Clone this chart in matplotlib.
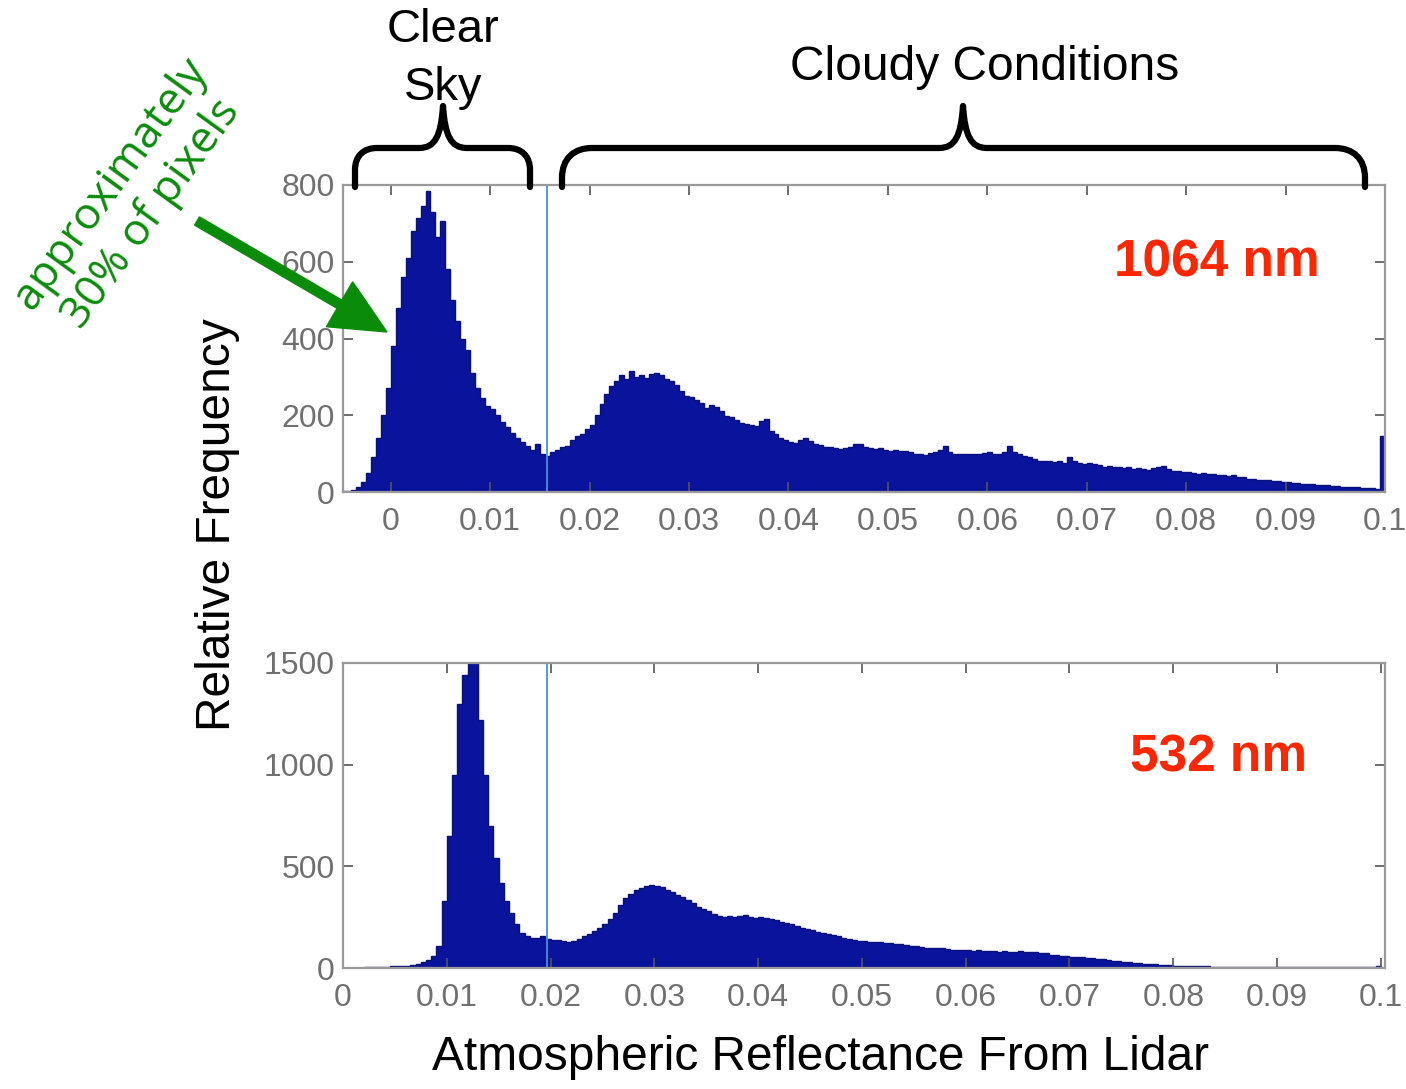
import numpy as np
import matplotlib
matplotlib.use("Agg")
import matplotlib.pyplot as plt
from matplotlib.path import Path
from matplotlib.patches import PathPatch, FancyArrow

# ---------------- data ----------------
bin_width = 0.0005
top_start = -0.005
top_counts = [
    2, 3, 6, 12, 25, 50, 90, 140, 200, 270,
    380, 480, 560, 610, 680, 715, 745, 785, 730, 665,
    705, 580, 500, 445, 400, 370, 310, 270, 245, 225,
    215, 200, 182, 170, 155, 140, 130, 120, 110, 125,
    100, 95, 105, 110, 118, 120, 135, 145, 150, 165,
    175, 200, 230, 255, 275, 290, 305, 295, 315, 300,
    305, 298, 308, 310, 305, 295, 290, 280, 262, 250,
    248, 240, 232, 218, 228, 222, 210, 198, 195, 188,
    180, 178, 175, 172, 185, 190, 160, 150, 140, 135,
    130, 128, 135, 142, 132, 125, 122, 118, 116, 114,
    112, 115, 118, 126, 125, 116, 114, 112, 115, 110,
    108, 110, 106, 108, 104, 100, 98, 97, 102, 105,
    110, 120, 104, 100, 98, 99, 100, 98, 100, 102,
    104, 100, 98, 105, 120, 104, 98, 94, 90, 86,
    82, 82, 80, 78, 80, 76, 92, 80, 76, 74,
    75, 72, 70, 66, 68, 66, 64, 62, 64, 60,
    62, 60, 58, 62, 64, 68, 60, 56, 55, 52,
    53, 50, 48, 50, 47, 48, 45, 44, 42, 44,
    40, 38, 35, 33, 31, 32, 30, 28, 28, 26,
    25, 24, 23, 22, 21, 20, 19, 18, 17, 16,
    15, 14, 13, 13, 12, 11, 11, 10, 9, 145,
]
bot_start = 0.0
bot_counts = [
    0, 0, 0, 0, 3, 4, 5, 6, 7, 8,
    9, 10, 12, 15, 20, 28, 40, 60, 110, 330,
    650, 950, 1300, 1440, 1500, 1500, 1220, 950, 700, 540,
    420, 330, 270, 215, 170, 155, 148, 150, 155, 145,
    140, 138, 132, 128, 135, 145, 155, 165, 180, 195,
    215, 240, 270, 310, 345, 365, 385, 395, 405, 408,
    405, 398, 385, 375, 360, 350, 335, 318, 300, 290,
    278, 268, 258, 252, 255, 250, 258, 260, 252, 248,
    250, 244, 240, 235, 228, 222, 215, 205, 198, 192,
    185, 178, 170, 165, 160, 155, 150, 145, 138, 135,
    132, 130, 128, 126, 124, 122, 120, 118, 114, 110,
    106, 104, 100, 98, 96, 98, 92, 90, 88, 90,
    88, 86, 90, 86, 84, 82, 80, 82, 80, 78,
    82, 80, 80, 78, 76, 72, 66, 62, 60, 58,
    56, 54, 52, 50, 48, 46, 42, 38, 35, 32,
    30, 28, 26, 24, 22, 20, 18, 16, 15, 13,
    12, 11, 10, 9, 9, 8, 8, 7, 7, 7,
    6, 6, 7, 6, 6, 5, 6, 6, 5, 5,
    6, 5, 5, 4, 5, 5, 4, 5, 4, 4,
    5, 4, 4, 4, 5, 4, 4, 4, 5, 8,
]
top_threshold = 0.0157
bot_threshold = 0.0197
x_ticks = [0, 0.01, 0.02, 0.03, 0.04, 0.05, 0.06, 0.07, 0.08, 0.09, 0.1]
x_ticklabels = ["0", "0.01", "0.02", "0.03", "0.04", "0.05", "0.06", "0.07", "0.08", "0.09", "0.1"]
top_yticks = [0, 200, 400, 600, 800]
bot_yticks = [0, 500, 1000, 1500]

# ---------------- style ----------------
W, H = 1406, 1089
fig = plt.figure(figsize=(W / 100, H / 100), dpi=100)
fig.patch.set_facecolor("white")

bar_color = "#0A139C"
edge_color = "#08107A"
tick_font = ["Liberation Sans Narrow", "Liberation Sans", "DejaVu Sans"]
main_font = ["Liberation Sans", "DejaVu Sans"]

def fx(px):
    return px / W

def fy(py):
    return 1 - py / H

def axes_px(l, t, r, b):
    return [fx(l), fy(b), fx(r) - fx(l), fy(t) - fy(b)]

def style_axes(ax):
    for s in ax.spines.values():
        s.set_color("#9a9a9a")
        s.set_linewidth(1.6)
    ax.tick_params(direction="in", length=7, width=1.2, color="#555555",
                   top=True, right=True, labelcolor="#707070", labelsize=23)
    ax.tick_params(axis="x", pad=11)
    ax.tick_params(axis="y", pad=6)
    for lab in ax.get_xticklabels() + ax.get_yticklabels():
        lab.set_family(tick_font)

# Top panel
ax1 = fig.add_axes(axes_px(343, 185, 1385, 492))
edges1 = top_start + bin_width * np.arange(len(top_counts) + 1)
ax1.stairs(top_counts, edges1, fill=True, color=bar_color, edgecolor=bar_color)
ax1.stairs(top_counts, edges1, fill=False, color=edge_color, linewidth=1.0)
ax1.axvline(top_threshold, color="#4A8FD8", linewidth=1.3)
ax1.set_xlim(-0.0048, 0.1)
ax1.set_ylim(0, 800)
ax1.set_xticks(x_ticks)
ax1.set_xticklabels(x_ticklabels)
ax1.set_yticks(top_yticks)
style_axes(ax1)

# Bottom panel
ax2 = fig.add_axes(axes_px(343, 663, 1385, 968))
edges2 = bot_start + bin_width * np.arange(len(bot_counts) + 1)
ax2.stairs(bot_counts, edges2, fill=True, color=bar_color, edgecolor=bar_color)
ax2.stairs(bot_counts, edges2, fill=False, color=edge_color, linewidth=1.0)
ax2.axvline(bot_threshold, color="#4A8FD8", linewidth=1.3)
ax2.set_xlim(0, 0.1004)
ax2.set_ylim(0, 1500)
ax2.set_xticks(x_ticks)
ax2.set_xticklabels(x_ticklabels)
ax2.set_yticks(bot_yticks)
style_axes(ax2)

# Axis labels
fig.text(fx(218), fy(525), "Relative Frequency", rotation=90, ha="center", va="center",
         fontsize=34.5, family=main_font, color="black")
fig.text(fx(821), fy(1058), "Atmospheric Reflectance From Lidar", ha="center", va="center",
         fontsize=34.5, family=main_font, color="black")

# Wavelength labels
fig.text(fx(1217), fy(263), "1064 nm", ha="center", va="center", fontsize=37,
         fontweight="bold", family=main_font, color="#FF2600")
fig.text(fx(1218), fy(758), "532 nm", ha="center", va="center", fontsize=37,
         fontweight="bold", family=main_font, color="#FF2600")

# Bracket titles
fig.text(fx(443), fy(30), "Clear", ha="center", va="center", fontsize=34, family=main_font)
fig.text(fx(443), fy(88), "Sky", ha="center", va="center", fontsize=34, family=main_font)
fig.text(fx(985), fy(68), "Cloudy Conditions", ha="center", va="center", fontsize=34.5, family=main_font)

# Braces (pixel coordinates -> inches)
def P(x, y):
    return (x / 100.0, (H - y) / 100.0)

def brace(x0, x1, xc, yb, yh, yc, r):
    verts = [P(x0, yb), P(x0, yh + r),
             P(x0, yh + r * 0.35), P(x0 + r * 0.4, yh), P(x0 + r, yh),
             P(xc - 24, yh),
             P(xc - 8, yh), P(xc - 2, yh - 12), P(xc, yc),
             P(xc + 2, yh - 12), P(xc + 8, yh), P(xc + 24, yh),
             P(x1 - r, yh),
             P(x1 - r * 0.4, yh), P(x1, yh + r * 0.35), P(x1, yh + r),
             P(x1, yb)]
    codes = [Path.MOVETO, Path.LINETO,
             Path.CURVE4, Path.CURVE4, Path.CURVE4,
             Path.LINETO,
             Path.CURVE4, Path.CURVE4, Path.CURVE4,
             Path.CURVE4, Path.CURVE4, Path.CURVE4,
             Path.LINETO,
             Path.CURVE4, Path.CURVE4, Path.CURVE4,
             Path.LINETO]
    patch = PathPatch(Path(verts, codes), facecolor="none", edgecolor="black",
                      linewidth=4.5, capstyle="round", joinstyle="round",
                      transform=fig.dpi_scale_trans)
    fig.add_artist(patch)

brace(355, 530, 443, 187, 148, 106, 22)
brace(562, 1365, 963, 187, 148, 106, 30)

# Green annotation
green = "#0A8C0A"
fig.text(fx(131), fy(199), "approximately\n30% of pixels", rotation=54, ha="center", va="center",
         multialignment="center", fontsize=32, color=green,
         family=["Open Sans", "DejaVu Sans"], linespacing=1.15)
sx, sy = P(197, 221)
ex, ey = P(387, 332)
arrow = FancyArrow(sx, sy, ex - sx, ey - sy, width=0.095, head_width=0.52, head_length=0.55,
                   length_includes_head=True, color=green, transform=fig.dpi_scale_trans)
fig.add_artist(arrow)

fig.savefig("out.png", dpi=100, facecolor="white")
